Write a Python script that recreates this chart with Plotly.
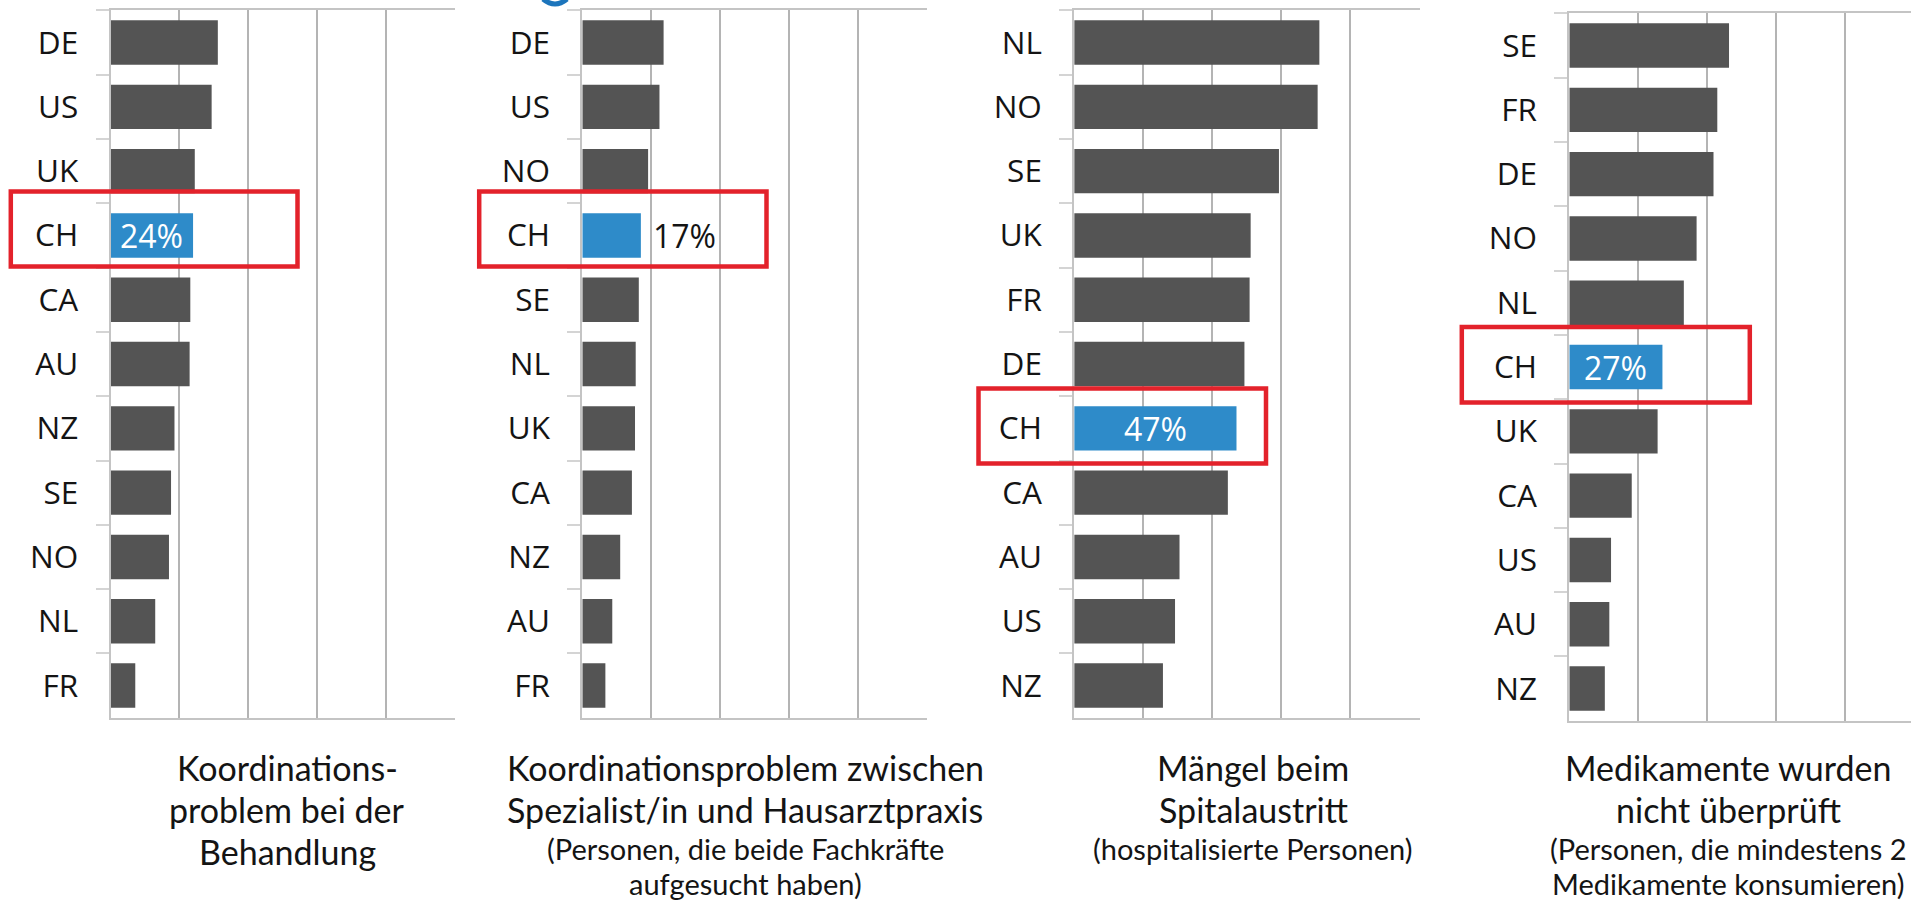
import plotly.graph_objects as go

W, H = 1911, 902

# ---------------- data ----------------
p1_countries = ["DE", "US", "UK", "CH", "CA", "AU", "NZ", "SE", "NO", "NL", "FR"]
p1_values = [31.2, 29.4, 24.5, 24, 23.2, 23.0, 18.6, 17.6, 17.0, 13.0, 7.2]

p2_countries = ["DE", "US", "NO", "CH", "SE", "NL", "UK", "CA", "NZ", "AU", "FR"]
p2_values = [23.6, 22.4, 19.1, 17, 16.4, 15.5, 15.3, 14.4, 11.0, 8.7, 6.7]

p3_countries = ["NL", "NO", "SE", "UK", "FR", "DE", "CH", "CA", "AU", "US", "NZ"]
p3_values = [71.0, 70.5, 59.3, 51.1, 50.8, 49.3, 47, 44.5, 30.5, 29.2, 25.7]

p4_countries = ["SE", "FR", "DE", "NO", "NL", "CH", "UK", "CA", "US", "AU", "NZ"]
p4_values = [46.3, 42.9, 41.8, 36.9, 33.2, 27, 25.6, 18.1, 12.1, 11.6, 10.3]

caption_main = [
    ["Koordinations-", "problem bei der", "Behandlung"],
    ["Koordinationsproblem zwischen", "Spezialist/in und Hausarztpraxis"],
    ["Mängel beim", "Spitalaustritt"],
    ["Medikamente wurden", "nicht überprüft"],
]
caption_sub = [
    [],
    ["(Personen, die beide Fachkräfte", "aufgesucht haben)"],
    ["(hospitalisierte Personen)"],
    ["(Personen, die mindestens 2", "Medikamente konsumieren)"],
]
highlight = "CH"
label_inside = [True, False, True, True]

# ---------------- styling / layout ----------------
GRAY = "#545454"
BLUE = "#2E8BC9"
RED = "#E3222B"
GRID = "#B4B4B4"
TEXT = "#141414"
LABEL_FONT = "Open Sans, DejaVu Sans, sans-serif"
CAP_FONT = "Lato, Open Sans, sans-serif"


def px_x(p):
    return p / W


def px_y(p):
    return 1 - p / H


panels = [
    (p1_countries, p1_values),
    (p2_countries, p2_values),
    (p3_countries, p3_values),
    (p4_countries, p4_values),
]
# pixel extents of the plot areas (left, right, top, bottom) and x ranges
x_px = [(110.5, 454.5), (582.3, 926.8), (1074.2, 1419.5), (1569.3, 1911.0)]
x_rng = [(0, 100), (0, 100), (0, 100), (0, 99.05)]
y_px = [(10.4, 717.7), (10.4, 717.7), (10.4, 717.7), (13.4, 720.7)]
cap_cx = [287, 745, 1253, 1728]
sub_y = [848, 883]
rects = [
    (10.8, 297.5, 191.5, 266.5),
    (479.2, 766.5, 191.5, 266.5),
    (978.5, 1266.0, 388.5, 463.5),
    (1461.8, 1749.8, 327.0, 402.5),
]

fig = go.Figure()
layout = dict(
    width=W,
    height=H,
    margin=dict(l=0, r=0, t=0, b=0),
    paper_bgcolor="white",
    plot_bgcolor="white",
    showlegend=False,
    bargap=0.31,
)
annotations = []
shapes = []

for i, (cats, vals) in enumerate(panels):
    n = "" if i == 0 else str(i + 1)
    colors = [BLUE if c == highlight else GRAY for c in cats]
    fig.add_trace(
        go.Bar(
            x=vals,
            y=cats,
            orientation="h",
            marker=dict(color=colors, line=dict(width=0)),
            xaxis="x" + n,
            yaxis="y" + n,
            hoverinfo="x+y",
        )
    )
    l, r = x_px[i]
    t, b = y_px[i]
    layout["xaxis" + n] = dict(
        domain=[px_x(l), px_x(r)],
        anchor="y" + n,
        range=list(x_rng[i]),
        tick0=0,
        dtick=20,
        showgrid=True,
        gridcolor=GRID,
        gridwidth=2,
        showline=True,
        mirror=True,
        linecolor="#C4C4C4",
        linewidth=2,
        zeroline=False,
        showticklabels=False,
        ticks="",
        fixedrange=True,
    )
    layout["yaxis" + n] = dict(
        domain=[px_y(b), px_y(t)],
        anchor="x" + n,
        type="category",
        categoryorder="array",
        categoryarray=cats,
        autorange="reversed",
        showline=True,
        linecolor="#C4C4C4",
        linewidth=2,
        showgrid=False,
        zeroline=False,
        ticks="outside",
        tickson="boundaries",
        ticklen=13,
        tickwidth=1.5,
        tickcolor="#D4D4D4",
        ticklabelstandoff=24,
        tickfont=dict(family=LABEL_FONT, size=31.5, color=TEXT),
        fixedrange=True,
    )

    # value label of the highlighted bar
    idx = cats.index(highlight)
    v = vals[idx]
    if label_inside[i]:
        annotations.append(
            dict(
                x=v / 2,
                y=highlight,
                xref="x" + n,
                yref="y" + n,
                text=f"{v:.0f}%",
                showarrow=False,
                xanchor="center",
                yanchor="middle",
                font=dict(family=LABEL_FONT, size=32, color="white"),
            )
        )
    else:
        annotations.append(
            dict(
                x=v,
                y=highlight,
                xref="x" + n,
                yref="y" + n,
                text=f"{v:.0f}%",
                showarrow=False,
                xanchor="left",
                yanchor="middle",
                xshift=10,
                font=dict(family=LABEL_FONT, size=32, color=TEXT),
            )
        )

    # captions
    y0 = 767
    for j, line in enumerate(caption_main[i]):
        annotations.append(
            dict(
                x=px_x(cap_cx[i]),
                y=px_y(y0 + 42 * j),
                xref="paper",
                yref="paper",
                text=line,
                showarrow=False,
                xanchor="center",
                yanchor="middle",
                font=dict(family=CAP_FONT, size=34, color=TEXT),
            )
        )
    for j, line in enumerate(caption_sub[i]):
        annotations.append(
            dict(
                x=px_x(cap_cx[i]),
                y=px_y(sub_y[j]),
                xref="paper",
                yref="paper",
                text=line,
                showarrow=False,
                xanchor="center",
                yanchor="middle",
                borderpad=0,
                font=dict(family=CAP_FONT, size=29, color=TEXT),
            )
        )

    x0, x1, ya, yb = rects[i]
    shapes.append(
        dict(
            type="rect",
            xref="paper",
            yref="paper",
            x0=px_x(x0),
            x1=px_x(x1),
            y0=px_y(yb),
            y1=px_y(ya),
            line=dict(color=RED, width=4.5),
            fillcolor="rgba(0,0,0,0)",
            layer="above",
        )
    )

# cut-off fragment (bottom of a blue letter) of the slide title above the charts
shapes.append(
    dict(
        type="path",
        xref="paper",
        yref="paper",
        path=(
            f"M {px_x(543)},{px_y(-1)} Q {px_x(555)},{px_y(9)} {px_x(567)},{px_y(-1)}"
        ),
        line=dict(color="#1C75BC", width=5),
        layer="above",
    )
)

layout["annotations"] = annotations
layout["shapes"] = shapes
fig.update_layout(**layout)

fig.write_html(
    "out.html",
    config={"displayModeBar": False, "responsive": False},
    post_script="document.body.style.margin='0';document.body.style.overflow='hidden';",
)
